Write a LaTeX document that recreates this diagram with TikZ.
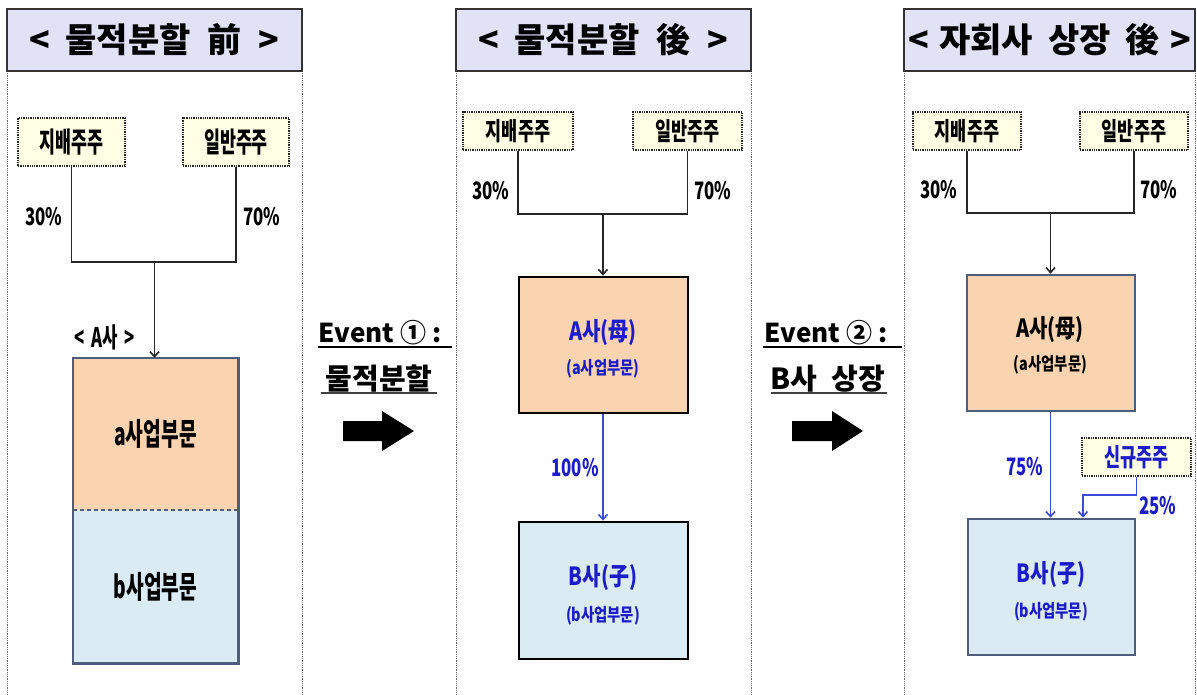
\documentclass[tikz,border=0pt]{standalone}
\usepackage{fontspec}
\setmainfont{Noto Sans CJK KR}
\newfontfamily\kra{Noto Sans CJK KR}[FakeStretch=0.7]
\newfontfamily\krb{Noto Sans CJK KR}[FakeStretch=0.8]
\newfontfamily\krc{Noto Sans CJK KR}[FakeStretch=0.62]
\usetikzlibrary{arrows.meta}
\definecolor{titlefill}{HTML}{E2E2F6}
\definecolor{peach}{HTML}{FAD4B0}
\definecolor{lblue}{HTML}{DBEBF4}
\definecolor{lyellow}{HTML}{FFFFE6}
\definecolor{slate}{HTML}{4E5D7B}
\definecolor{txtblue}{HTML}{1C1CCB}
\definecolor{lnblue}{HTML}{3A4BE0}
\tikzset{
  titlebox/.style={draw=black!80, line width=1.4pt, fill=titlefill, inner sep=0pt,
    minimum height=62pt, font=\bfseries\fontsize{34}{38}\selectfont},
  paneledge/.style={densely dotted, draw=black!60, line width=0.8pt},
  shbox/.style={draw=black!85, densely dotted, line width=1.3pt, fill=lyellow, inner sep=0pt,
    font=\kra\bfseries\fontsize{25}{29}\selectfont},
  pct/.style={inner sep=0pt, font=\kra\bfseries\fontsize{24}{28}\selectfont},
  conn/.style={draw=black!85, line width=1.8pt},
  bconn/.style={draw=lnblue, line width=1.8pt},
  tip/.style={-{Straight Barb[length=5pt,width=9pt,line width=1.6pt]}},
  unitbox/.style={inner sep=0pt, minimum width=168pt, minimum height=136pt},
  bigtxt/.style={inner sep=0pt, font=\krb\bfseries\fontsize{25}{29}\selectfont},
  smalltxt/.style={inner sep=0pt, font=\krb\bfseries\fontsize{18}{21}\selectfont},
  eventtxt/.style={inner sep=0pt, font=\bfseries\fontsize{26}{30}\selectfont},
  blockarrow/.style={fill=black, draw=none}
}
\begin{document}
\begin{tikzpicture}[x=1pt,y=-1pt]
\useasboundingbox (0,0) rectangle (1197,694);
% ---------------- panel frames ----------------
\draw[paneledge] (7,71) -- (7,694);
\draw[paneledge] (302,71) -- (302,694);
\draw[paneledge] (456,71) -- (456,694);
\draw[paneledge] (751,71) -- (751,694);
\draw[paneledge] (904,71) -- (904,694);
\draw[paneledge] (1195,71) -- (1195,694);
\node[titlebox, minimum width=295pt] (T1) at (154.5,40) {<\hspace{0.45em}물적분할\hspace{0.5em}前\hspace{0.5em}>};
\node[titlebox, minimum width=295pt] (T2) at (603.5,40) {<\hspace{0.45em}물적분할\hspace{0.5em}後\hspace{0.5em}>};
\node[titlebox, minimum width=291pt] (T3) at (1049.5,40) {<\hspace{0.3em}자회사\hspace{0.45em}상장\hspace{0.45em}後\hspace{0.3em}>};

% ---------------- left panel ----------------
\node[shbox, minimum width=107pt, minimum height=48pt, font=\krc\bfseries\fontsize{28}{32}\selectfont] (Lj) at (71.5,142) {지배주주};
\node[shbox, minimum width=106pt, minimum height=48pt, font=\krc\bfseries\fontsize{28}{32}\selectfont] (Li) at (236,142) {일반주주};
\coordinate (Lm) at (154.5,262);
\node[pct] (Lp1) at (44,217) {30\%};
\node[pct] (Lp2) at (262,217) {70\%};
\node[inner sep=0pt, font=\krc\bfseries\fontsize{27}{30}\selectfont] (LAlab) at (105,337) {<\hspace{0.25em}A사\hspace{0.25em}>};
\node[fill=peach, inner sep=0pt, minimum width=165pt, minimum height=152pt] (La) at (155.5,434) {};
\node[fill=lblue, inner sep=0pt, minimum width=165pt, minimum height=153pt] (Lb) at (155.5,586.5) {};
\node[inner sep=0pt, font=\krc\bfseries\fontsize{31}{34}\selectfont] (Lat) at (La.center) {a사업부문};
\node[inner sep=0pt, font=\krc\bfseries\fontsize{31}{34}\selectfont] (Lbt) at (Lb.center) {b사업부문};
\draw[slate, line width=1.5pt, dashed, dash pattern=on 4pt off 3pt] (La.south west) -- (La.south east);
\draw[slate, line width=2.6pt] (La.north west) rectangle (Lb.south east);
\draw[conn] (Lj.south) |- (Lm) -| (Li.south);
\draw[conn, tip] (Lm) -- (Lm |- La.north);

% ---------------- event 1 ----------------
\node[eventtxt] (E1) at (380,333) {Event\hspace{0.25em}①\hspace{0.2em}:};
\node[eventtxt, font=\bfseries\fontsize{29}{32}\selectfont] (E1b) at (379,379) {물적분할};
\draw[black, line width=1.3pt] (318,347) -- (452,347);
\draw[black!75, line width=1.3pt] (321,393) -- (437,393);
\fill[blockarrow] (343,421) -- (382,421) -- (382,411) -- (414,431) -- (382,451) -- (382,441) -- (343,441) -- cycle;

% ---------------- middle panel ----------------
\node[shbox, minimum width=110pt, minimum height=38pt] (Mj) at (518,131) {지배주주};
\node[shbox, minimum width=109pt, minimum height=38pt] (Mi) at (687.5,131) {일반주주};
\coordinate (Mm) at (603,214);
\node[pct] (Mp1) at (491,191) {30\%};
\node[pct] (Mp2) at (713,191) {70\%};
\node[unitbox, draw=black, line width=2.8pt, fill=peach, minimum width=169pt] (MA) at (603.5,345) {};
\node[unitbox, draw=black, line width=2.8pt, fill=lblue, minimum width=169pt, minimum height=137pt] (MB) at (603.5,590.5) {};
\node[bigtxt, text=txtblue] (MAt) at (603,333) {A사(母)};
\node[smalltxt, text=txtblue] (MAs) at (603,369) {(a사업부문)};
\node[bigtxt, text=txtblue] (MBt) at (603,578) {B사(子)};
\node[smalltxt, text=txtblue] (MBs) at (603,616) {(b사업부문)};
\draw[conn] (Mj.south) |- (Mm) -| (Mi.south);
\draw[conn, tip] (Mm) -- (Mm |- MA.north);
\draw[bconn, tip] (MA.south -| Mm) -- (MB.north -| Mm);
\node[pct, text=txtblue] (Mp3) at (575,468) {100\%};

% ---------------- event 2 ----------------
\node[eventtxt] (E2) at (826,333) {Event\hspace{0.25em}②\hspace{0.2em}:};
\node[eventtxt, font=\bfseries\fontsize{29}{32}\selectfont] (E2b) at (828,379) {B사\hspace{0.5em}상장};
\draw[black, line width=1.3pt] (763,347) -- (902,347);
\draw[black!75, line width=1.3pt] (771,393) -- (887,393);
\fill[blockarrow] (792,421) -- (832,421) -- (832,411) -- (863,431) -- (832,451) -- (832,441) -- (792,441) -- cycle;

% ---------------- right panel ----------------
\node[shbox, minimum width=108pt, minimum height=38pt] (Rj) at (967,131) {지배주주};
\node[shbox, minimum width=108pt, minimum height=38pt] (Ri) at (1134,131) {일반주주};
\coordinate (Rm) at (1050.5,213);
\node[pct] (Rp1) at (939,190) {30\%};
\node[pct] (Rp2) at (1159,190) {70\%};
\node[unitbox, draw=slate, line width=2.6pt, fill=peach] (RA) at (1051,343) {};
\node[unitbox, draw=slate, line width=2.6pt, fill=lblue, minimum width=167pt] (RB) at (1051.5,587) {};
\node[bigtxt] (RAt) at (1050,330) {A사(母)};
\node[smalltxt] (RAs) at (1050.5,365) {(a사업부문)};
\node[bigtxt, text=txtblue] (RBt) at (1051,575) {B사(子)};
\node[smalltxt, text=txtblue] (RBs) at (1051,612) {(b사업부문)};
\node[shbox, minimum width=109pt, minimum height=38pt, text=txtblue] (Rn) at (1136.5,457) {신규주주};
\coordinate (Rt) at (1083,495);
\draw[conn] (Rj.south) |- (Rm) -| (Ri.south);
\draw[conn, tip] (Rm) -- (Rm |- RA.north);
\draw[bconn, tip] (RA.south -| Rm) -- (RB.north -| Rm);
\draw[bconn, tip] (Rn.south) |- (Rt) -- (Rt |- RB.north);
\node[pct, text=txtblue] (Rp3) at (1025,467) {75\%};
\node[pct, text=txtblue] (Rp4) at (1158,506) {25\%};
\end{tikzpicture}
\end{document}
